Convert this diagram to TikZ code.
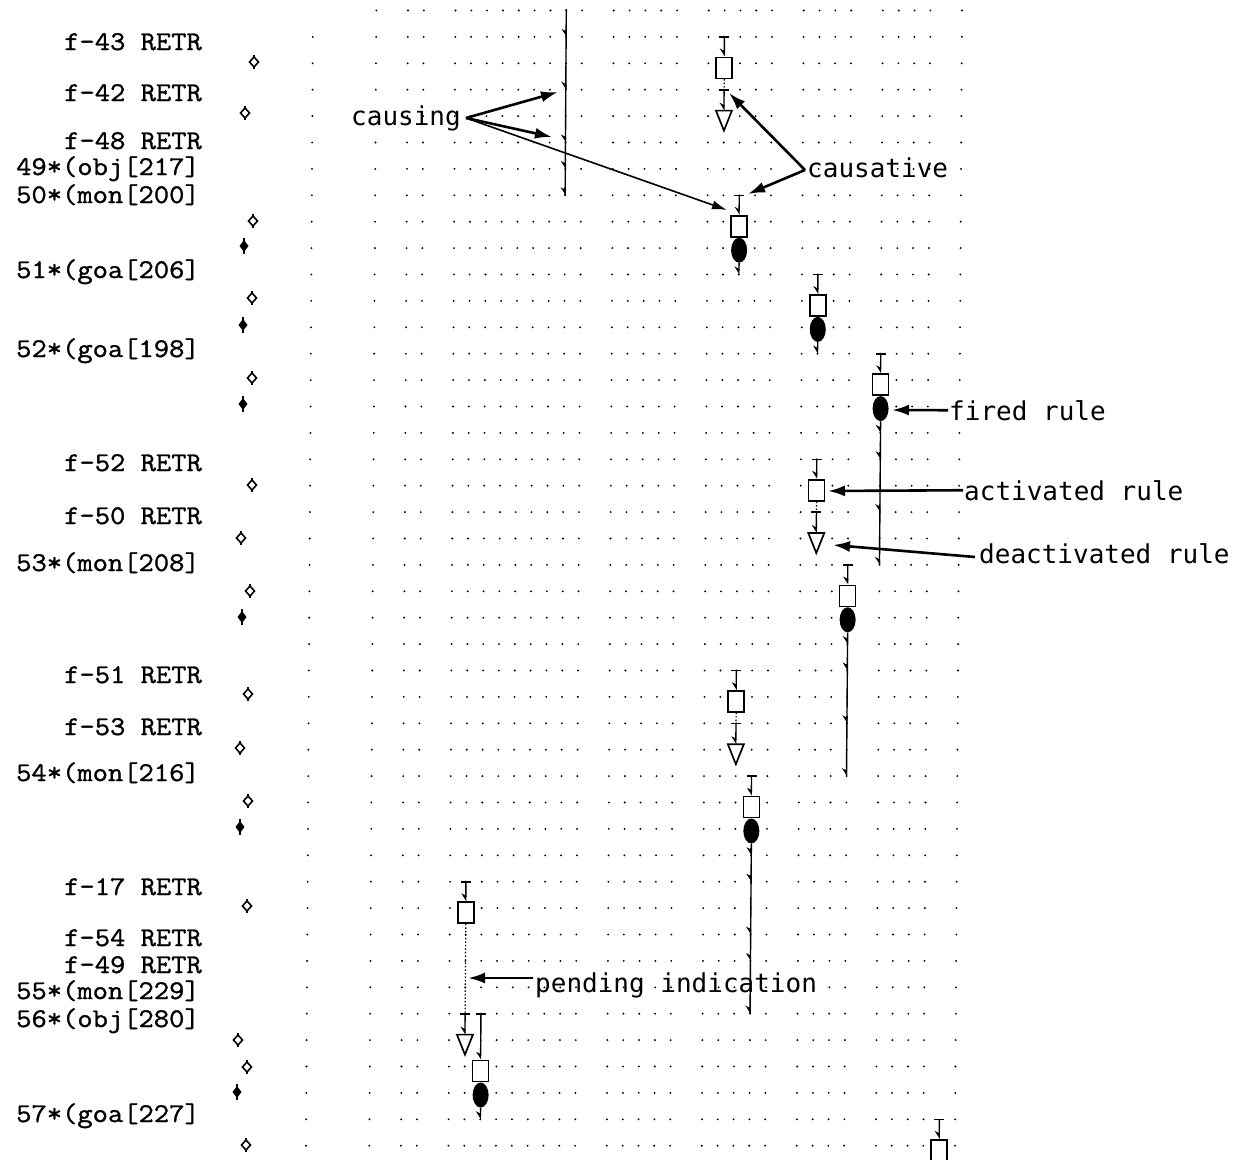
\documentclass[tikz,border=0pt]{standalone}
\usepackage{fontspec}
\newfontfamily\annfont{DejaVu Sans Mono}
\newfontfamily\labfont[FakeBold=1.2,FakeStretch=1.1]{Latin Modern Mono}
\usetikzlibrary{arrows.meta,calc,shapes.geometric}

\tikzset{
  lab/.style={anchor=base west, inner sep=0pt, font=\labfont\fontsize{27}{27}\selectfont},
  ann/.style={anchor=base west, inner sep=1pt, font=\annfont\fontsize{26}{26}\selectfont},
  annarrow/.style={line width=2.6pt, -{Latex[length=17pt,width=11pt]}},
  rbox/.style={draw, line width=1.6pt, fill=white, minimum width=16pt, minimum height=21pt, inner sep=0pt},
  rfire/.style={ellipse, fill=black, minimum width=16pt, minimum height=25pt, inner sep=0pt},
  inarrow/.style={line width=1.4pt, -{Stealth[harpoon,swap,length=7pt,width=9pt]}},
  tbar/.style={line width=1.6pt},
  pendline/.style={line width=1.2pt, dash pattern=on 1.5pt off 2pt},
  vline/.style={line width=1.4pt},
  rtri/.style={line width=1.7pt, fill=white},
}

% open diamond marker
\newcommand\odia[3]{%
  \coordinate (#1) at (#2,#3);
  \draw[line width=1.4pt] ($(#1)+(0pt,7pt)$) -- ($(#1)+(0pt,-7pt)$);
  \draw[line width=1.6pt, fill=white] ($(#1)+(-4.5pt,0pt)$) -- ($(#1)+(0pt,5pt)$) -- ($(#1)+(4.5pt,0pt)$) -- ($(#1)+(0pt,-5pt)$) -- cycle;
}
% filled diamond marker
\newcommand\fdia[3]{%
  \coordinate (#1) at (#2,#3);
  \draw[line width=1.4pt] ($(#1)+(0pt,8pt)$) -- ($(#1)+(0pt,-8pt)$);
  \fill ($(#1)+(-4.5pt,0pt)$) -- ($(#1)+(0pt,6pt)$) -- ($(#1)+(4.5pt,0pt)$) -- ($(#1)+(0pt,-6pt)$) -- cycle;
}
% activated rule: name, column, T row, box row
\newcommand\ruleact[4]{%
  \coordinate (#1t) at (#2,#3);
  \node[rbox] (#1) at ($(#2,#4)+(0pt,-4.5pt)$) {};
  \draw[tbar] ($(#1t)+(-5pt,0pt)$) -- ($(#1t)+(5pt,0pt)$);
  \draw[inarrow] (#1t) -- (#1.north);
}
% fired rule: name, box name
\newcommand\rulefire[2]{%
  \node[rfire, anchor=north] (#1) at (#2.south) {};
}
% deactivated rule: name, box name, column, T row, triangle row
\newcommand\ruledeact[5]{%
  \coordinate (#1t) at (#3,#4);
  \coordinate (#1) at ($(#3,#5)+(0pt,-4.5pt)$);
  \coordinate (#1n) at ($(#1)+(0pt,10pt)$);
  \draw[pendline] (#2.south) -- (#1t);
  \draw[tbar] ($(#1t)+(-5pt,0pt)$) -- ($(#1t)+(5pt,0pt)$);
  \draw[rtri] ($(#1)+(-8pt,10pt)$) -- ($(#1)+(8pt,10pt)$) -- ($(#1)+(0pt,-10pt)$) -- cycle;
  \draw[inarrow] (#1t) -- (#1n);
}
% tick arrow on a causal line: column, row
\newcommand\tk[2]{\draw[inarrow] ($(#1,#2)+(0pt,7pt)$) -- (#1,#2);}

\begin{document}
\begin{tikzpicture}[x=1pt,y=-1pt]
\useasboundingbox (0,0) rectangle (1250,1159);

% ---------- left trace labels ----------
\node[lab] (l1) at (64,50) {f-43 RETR};
\node[lab] (l2) at (64,101) {f-42 RETR};
\node[lab] (l3) at (64,149) {f-48 RETR};
\node[lab] (l4) at (16,175) {49*(obj[217]};
\node[lab] (l5) at (16,203) {50*(mon[200]};
\node[lab] (l6) at (16,278) {51*(goa[206]};
\node[lab] (l7) at (16,357) {52*(goa[198]};
\node[lab] (l8) at (64,471) {f-52 RETR};
\node[lab] (l9) at (64,524) {f-50 RETR};
\node[lab] (l10) at (16,571) {53*(mon[208]};
\node[lab] (l11) at (64,683) {f-51 RETR};
\node[lab] (l12) at (64,735) {f-53 RETR};
\node[lab] (l13) at (16,781) {54*(mon[216]};
\node[lab] (l14) at (64,895) {f-17 RETR};
\node[lab] (l15) at (64,946) {f-54 RETR};
\node[lab] (l16) at (64,973) {f-49 RETR};
\node[lab] (l17) at (16,999) {55*(mon[229]};
\node[lab] (l18) at (16,1027) {56*(obj[280]};
\node[lab] (l19) at (16,1122) {57*(goa[227]};

% ---------- diamonds ----------
\odia{d1}{254}{62}
\odia{d2}{245}{113}
\odia{d3}{253}{221}
\fdia{d4}{244}{246}
\odia{d5}{252}{298}
\fdia{d6}{243}{325}
\odia{d7}{252}{378}
\fdia{d8}{243}{404}
\odia{d9}{252}{485}
\odia{d10}{241}{538}
\odia{d11}{250}{591}
\fdia{d12}{242}{617}
\odia{d13}{248}{694}
\odia{d14}{240}{748}
\odia{d15}{248}{801}
\fdia{d16}{240}{827}
\odia{d17}{247}{906}
\odia{d18}{238}{1040}
\odia{d19}{247}{1067}
\fdia{d20}{237}{1092}
\odia{d21}{246}{1145}

% ---------- grid frame ----------
\begin{scope}[shift={(313,10.5)}, x={(15.83pt,0pt)}, y={(-0.163pt,-26.4pt)}]
  \foreach \k in {4,6,7,9,10,11,12,13,14,15,16,17,19,20,21,22,23,25,26,27,28,29,31,32,33,34,36,37,38,39,41}
    \fill (\k,0) circle (1.05pt);
  \foreach \r in {1,...,43}
    \foreach \k in {0,4,6,7,9,10,11,12,13,14,15,16,17,19,20,21,22,23,25,26,27,28,29,31,32,33,34,36,37,38,39,41}
      \fill (\k,\r) circle (1.05pt);

  % causal line coming from above
  \coordinate (CLtop) at (16,-0.05);
  \coordinate (CLbot) at (16,7);
  \draw[vline] (CLtop) -- (CLbot);
  \foreach \r in {1,3,5,6,7} {\tk{16}{\r}}

  % rule A (activated, deactivated)
  \ruleact{A}{26}{1}{2}
  \ruledeact{A2}{A}{26}{3}{4}

  % rule B (fired)
  \ruleact{B}{27}{7}{8}
  \rulefire{Bf}{B}
  \coordinate (Be) at (27,10);
  \draw[inarrow] (Bf.south) -- (Be);

  % rule C (fired)
  \ruleact{C}{32}{10}{11}
  \rulefire{Cf}{C}
  \coordinate (Ce) at (32,13);
  \draw[inarrow] (Cf.south) -- (Ce);

  % rule D (fired, causal line)
  \ruleact{D}{36}{13}{14}
  \rulefire{Df}{D}
  \coordinate (De) at (36,21);
  \draw[vline] (Df.south) -- (De);
  \foreach \r in {16,17,19,21} {\tk{36}{\r}}

  % rule E (activated, deactivated)
  \ruleact{E}{32}{17}{18}
  \ruledeact{E2}{E}{32}{19}{20}

  % rule F (fired, causal line)
  \ruleact{F}{34}{21}{22}
  \rulefire{Ff}{F}
  \coordinate (Fe) at (34,29);
  \draw[vline] (Ff.south) -- (Fe);
  \foreach \r in {24,25,27,29} {\tk{34}{\r}}

  % rule G (activated, deactivated)
  \ruleact{G}{27}{25}{26}
  \ruledeact{G2}{G}{27}{27}{28}

  % rule H (fired, causal line)
  \ruleact{H}{28}{29}{30}
  \rulefire{Hf}{H}
  \coordinate (He) at (28,38);
  \draw[vline] (Hf.south) -- (He);
  \foreach \r in {32,33,35,36,38} {\tk{28}{\r}}

  % rule I (activated, pending, deactivated)
  \ruleact{I}{10}{33}{34}
  \ruledeact{I2}{I}{10}{38}{39}

  % rule J (fired)
  \ruleact{J}{11}{38}{40}
  \rulefire{Jf}{J}
  \coordinate (Je) at (11,42);
  \draw[inarrow] (Jf.south) -- (Je);

  % rule K (activated, cut off)
  \ruleact{K}{40}{42}{43}
\end{scope}

% ---------- annotations ----------
\node[ann] (causing) at (350,125) {causing};
\node[ann] (causative) at (806,177) {causative};
\node[ann] (fired) at (948,420) {fired rule};
\node[ann] (activated) at (963,500) {activated rule};
\node[ann] (deactivated) at (978,563) {deactivated rule};
\node[ann] (pending) at (534,992) {pending indication};

\coordinate (cgs) at (466,118);
\coordinate (cg1) at (558,92);
\coordinate (cg2) at (552,137);
\coordinate (cg3) at (727,210);
\draw[annarrow] (cgs) -- (cg1);
\draw[annarrow] (cgs) -- (cg2);
\draw[line width=1.6pt, -{Latex[length=15pt,width=9pt]}] (cgs) -- (cg3);

\coordinate (cvs) at (805,170);
\coordinate (cv1) at (729,93);
\coordinate (cv2) at (748,194);
\draw[annarrow] (cvs) -- (cv1);
\draw[annarrow] (cvs) -- (cv2);

\coordinate (frt) at (892,410);
\draw[annarrow] (fired.west) -- (frt);
\coordinate (act) at (828,491);
\draw[annarrow] (activated.west) -- (act);
\coordinate (des) at (975,557);
\coordinate (det) at (833,545);
\draw[annarrow] (des) -- (det);
\coordinate (pes) at (533,978);
\coordinate (pet) at (468,978);
\draw[annarrow] (pes) -- (pet);
\end{tikzpicture}
\end{document}
